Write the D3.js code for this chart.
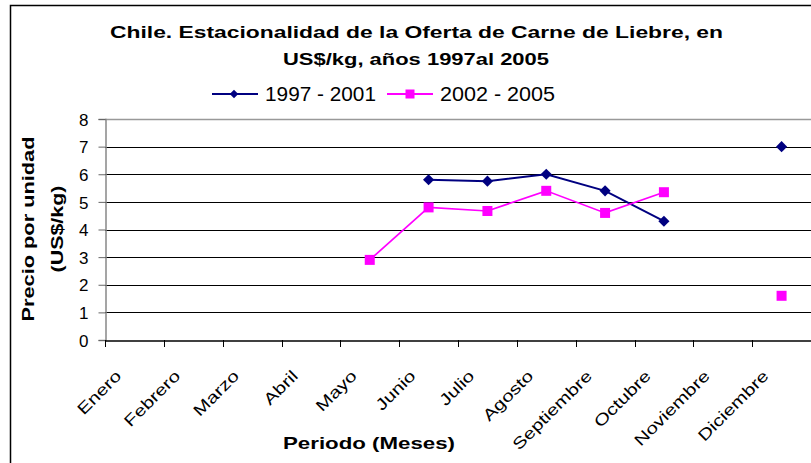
<!DOCTYPE html>
<html>
<head>
<meta charset="utf-8">
<script src="https://cdn.jsdelivr.net/npm/d3@7"></script>
<style>
  body { margin: 0; background: #fff; }
  svg text { font-family: "Liberation Sans", Arial, sans-serif; fill: #000; }
</style>
</head>
<body>
<div id="chart"></div>
<script>
// data
var months = ["Enero", "Febrero", "Marzo", "Abril", "Mayo", "Junio", "Julio",
              "Agosto", "Septiembre", "Octubre", "Noviembre", "Diciembre"];
var serie1 = [null, null, null, null, null, 5.8, 5.75, 6.0, 5.4, 4.3, null, 7.0];
var serie2 = [null, null, null, null, 2.9, 4.8, 4.67, 5.4, 4.6, 5.35, null, 1.6];
var seriesNames = ["1997 - 2001", "2002 - 2005"];
var yTicks = [0, 1, 2, 3, 4, 5, 6, 7, 8];

const W = 811, H = 463;
var cfg = {
  left: 105, right: 811, top: 119, bottom: 340,
  navy: "#000080", pink: "#ff00ff",
  stretch: 1.28   // the labels in the picture are drawn wider than Arial
};

var svg = d3.select("#chart").append("svg")
  .attr("width", W).attr("height", H);

// outer border of the chart
svg.append("rect")
  .attr("x", 10.5).attr("y", 5.5)
  .attr("width", W + 20).attr("height", H + 20)
  .style("fill", "none").style("stroke", "#000").style("stroke-width", "1.5px");

var x = d3.scaleBand().domain(months).range([cfg.left, cfg.right]);
var y = d3.scaleLinear().domain([0, 8]).range([cfg.bottom, cfg.top]);

// gridlines
svg.selectAll(".grid")
  .data(yTicks.slice(1, -1))
  .enter().append("line")
  .attr("x1", cfg.left).attr("x2", cfg.right)
  .attr("y1", function(d) { return Math.round(y(d)) + 0.5; })
  .attr("y2", function(d) { return Math.round(y(d)) + 0.5; })
  .style("stroke", "#000").style("stroke-width", "1px");

// plot area top border
svg.append("line")
  .attr("x1", cfg.left).attr("x2", cfg.right)
  .attr("y1", Math.round(y(8)) + 0.5).attr("y2", Math.round(y(8)) + 0.5)
  .style("stroke", "#999").style("stroke-width", "1.5px");

// y axis
var yAxis = svg.append("g")
  .attr("transform", "translate(" + (cfg.left + 0.5) + ",0)")
  .call(d3.axisLeft(y).tickValues(yTicks).tickSize(7).tickPadding(10).tickFormat(d3.format("d")));
yAxis.attr("font-family", null);
yAxis.select(".domain").style("stroke", "#888").style("stroke-width", "1.5px");
yAxis.selectAll(".tick line").style("stroke", "#666");
yAxis.selectAll("text").style("font-size", "17px").attr("dy", "0.36em");

// x axis
var xAxis = svg.append("g")
  .attr("transform", "translate(0," + (Math.round(cfg.bottom) + 0.5) + ")")
  .call(d3.axisBottom(x).tickSizeOuter(0).tickSize(0).tickFormat(""));
xAxis.select(".domain").style("stroke", "#000").style("stroke-width", "1.5px");

// x ticks between categories
svg.selectAll(".xtick")
  .data(months)
  .enter().append("line")
  .attr("x1", function(d) { return Math.round(x(d)) + 0.5; })
  .attr("x2", function(d) { return Math.round(x(d)) + 0.5; })
  .attr("y1", cfg.bottom).attr("y2", cfg.bottom + 7)
  .style("stroke", "#000").style("stroke-width", "1px");

// x labels rotated
svg.selectAll(".xlab")
  .data(months)
  .enter().append("text")
  .attr("class", "xlab")
  .attr("text-anchor", "end")
  .style("font-size", "16px")
  .attr("transform", function(d) {
    var cx = x(d) + x.bandwidth() / 2 - 12;
    return "translate(" + cx + "," + (cfg.bottom + 37) + ") rotate(-45)";
  })
  .text(function(d) { return d; })
  .each(function() {
    var len = this.getComputedTextLength();
    d3.select(this).attr("textLength", len * cfg.stretch).attr("lengthAdjust", "spacingAndGlyphs");
  });

// titles
function label(txt, px, py, size, bold, len) {
  return svg.append("text")
    .attr("x", px).attr("y", py)
    .attr("text-anchor", "middle")
    .attr("textLength", len).attr("lengthAdjust", "spacingAndGlyphs")
    .style("font-size", size + "px").style("font-weight", bold ? "bold" : "normal")
    .text(txt);
}
label("Chile. Estacionalidad de la Oferta de Carne de Liebre, en", 416.5, 38, 17, true, 613);
label("US$/kg, años 1997al 2005", 416, 65, 17, true, 266);
label("Periodo (Meses)", 369, 449, 17, true, 172);

var yl = svg.append("g").attr("transform", "translate(34,229) rotate(-90)");
yl.append("text").attr("text-anchor", "middle").attr("y", 0)
  .attr("textLength", 185).attr("lengthAdjust", "spacingAndGlyphs")
  .style("font-size", "17px").style("font-weight", "bold")
  .text("Precio por unidad");
yl.append("text").attr("text-anchor", "middle").attr("y", 29)
  .attr("textLength", 87).attr("lengthAdjust", "spacingAndGlyphs")
  .style("font-size", "17px").style("font-weight", "bold")
  .text("(US$/kg)");

// series
var diamond = d3.symbol().type(d3.symbolSquare).size(62);
function drawSeries(vals, color, shape, width) {
  var pts = vals.map(function(v, i) { return { m: months[i], v: v }; });
  var line = d3.line()
    .defined(function(d) { return d.v !== null; })
    .x(function(d) { return x(d.m) + x.bandwidth() / 2; })
    .y(function(d) { return y(d.v); });
  svg.append("path")
    .datum(pts)
    .attr("d", line)
    .style("fill", "none").style("stroke", color).style("stroke-width", width + "px");
  var valid = pts.filter(function(d) { return d.v !== null; });
  if (shape === "diamond") {
    svg.selectAll(null).data(valid).enter().append("path")
      .attr("d", diamond)
      .attr("transform", function(d) {
        return "translate(" + (x(d.m) + x.bandwidth() / 2) + "," + y(d.v) + ") rotate(45)";
      })
      .style("fill", color);
  } else {
    svg.selectAll(null).data(valid).enter().append("rect")
      .attr("x", function(d) { return x(d.m) + x.bandwidth() / 2 - 5; })
      .attr("y", function(d) { return y(d.v) - 5; })
      .attr("width", 10).attr("height", 10)
      .style("fill", color);
  }
}
drawSeries(serie1, cfg.navy, "diamond", 2);
drawSeries(serie2, cfg.pink, "square", 1.7);

// legend
var legend = [
  { name: seriesNames[0], color: cfg.navy, shape: "diamond", x0: 212, len: 111 },
  { name: seriesNames[1], color: cfg.pink, shape: "square", x0: 387, len: 115 }
];
legend.forEach(function(l) {
  var ly = 94;
  svg.append("line")
    .attr("x1", l.x0).attr("x2", l.x0 + 46)
    .attr("y1", ly).attr("y2", ly)
    .style("stroke", l.color).style("stroke-width", "2px");
  if (l.shape === "diamond") {
    svg.append("path").attr("d", d3.symbol().type(d3.symbolSquare).size(36))
      .attr("transform", "translate(" + (l.x0 + 22) + "," + ly + ") rotate(45)")
      .style("fill", l.color);
  } else {
    svg.append("rect").attr("x", l.x0 + 18.5).attr("y", ly - 4.5)
      .attr("width", 9).attr("height", 9).style("fill", l.color);
  }
  svg.append("text")
    .attr("x", l.x0 + 53).attr("y", ly + 7)
    .attr("textLength", l.len).attr("lengthAdjust", "spacingAndGlyphs")
    .style("font-size", "19.5px")
    .text(l.name);
});
</script>
</body>
</html>
